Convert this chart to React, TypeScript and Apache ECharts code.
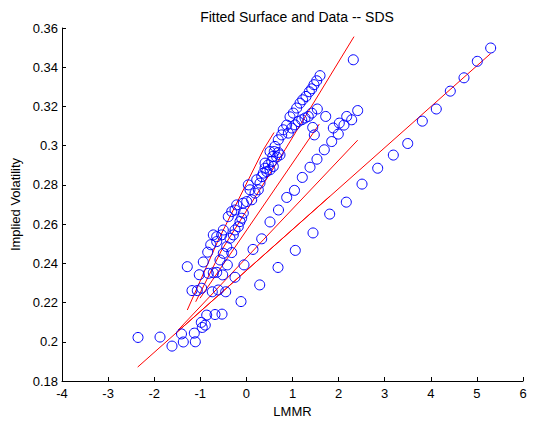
import React, { useEffect, useRef } from "react";
import * as echarts from "echarts";

// Axis ranges and tick settings
const xRange = [-4, 6];
const yRange = [0.18, 0.36];
const xStep = 1;
const yStep = 0.02;

const titleText = "Fitted Surface and Data -- SDS";
const xName = "LMMR";
const yName = "Implied Volatility";

// Data points [LMMR, implied volatility]
const groupE: number[][] = [
  [-2.351, 0.2022], [-1.874, 0.2024], [-1.614, 0.1978], [-1.369, 0.1999], [-1.108, 0.2],
  [-1.408, 0.204], [-1.13, 0.2044], [-0.978, 0.2099], [-0.892, 0.2085], [-0.957, 0.2073],
  [-0.861, 0.2136], [-0.681, 0.2139], [-0.529, 0.2141], [-0.117, 0.2205], [0.289, 0.229],
  [0.686, 0.2379], [1.061, 0.2466], [1.445, 0.2555], [1.807, 0.2651], [2.167, 0.2712],
  [2.508, 0.2804], [2.848, 0.2885], [3.187, 0.2952], [3.499, 0.3011], [3.816, 0.3125],
  [4.119, 0.3187], [4.423, 0.3278], [4.72, 0.3346], [5.009, 0.343], [5.299, 0.3498],
];

const groupD: number[][] = [
  [-0.449, 0.2255], [-0.247, 0.2329], [-0.052, 0.2392], [0.143, 0.2471], [0.332, 0.2525],
  [0.512, 0.2611], [0.696, 0.2672], [0.874, 0.2736], [1.043, 0.2772], [1.213, 0.2838],
  [1.38, 0.289], [1.531, 0.2931], [1.69, 0.2979], [1.85, 0.3021], [1.993, 0.3059],
  [2.117, 0.3105], [2.284, 0.3132], [2.414, 0.3179],
  [1.885, 0.309], [2.015, 0.3115], [2.176, 0.3149], [1.72, 0.3149], [1.438, 0.3093],
  [1.473, 0.3055], [2.319, 0.3438],
];

const groupC: number[][] = [
  [-0.74, 0.2255], [-0.61, 0.2264], [-1.022, 0.2342], [-0.826, 0.2349], [-0.718, 0.2352],
  [-0.644, 0.2354], [-0.514, 0.2341], [-1.282, 0.2383], [-0.935, 0.2407], [-0.573, 0.2417],
  [-0.414, 0.2392],
];

const groupB: number[][] = [
  [-1.18, 0.2261], [-1.065, 0.2261], [-0.97, 0.2273], [-0.839, 0.2457], [-0.774, 0.2495],
  [-0.644, 0.2511], [-0.501, 0.2451], [-0.319, 0.2455],
  [-0.718, 0.2545], [-0.644, 0.2536], [-0.536, 0.2545], [-0.501, 0.257], [-0.427, 0.2485],
  [-0.356, 0.2528], [-0.284, 0.2545], [-0.247, 0.257], [-0.176, 0.2587], [-0.139, 0.2613],
  [-0.102, 0.263], [-0.067, 0.2656], [-0.393, 0.2638], [-0.319, 0.2664], [-0.247, 0.2672],
  [-0.21, 0.2698], [-0.067, 0.2707], [0.007, 0.2715], [0.115, 0.2724], [0.187, 0.2758],
  [0.258, 0.2775], [0.295, 0.2809], [0.078, 0.2775], [0.041, 0.28], [0.224, 0.2826],
];

const groupA: number[][] = [
  [0.512, 0.297], [0.605, 0.297], [0.692, 0.2965], [0.571, 0.2945], [0.657, 0.2942],
  [0.729, 0.2953], [0.549, 0.2919], [0.475, 0.2902], [0.404, 0.2885], [0.44, 0.2868],
  [0.367, 0.286], [0.332, 0.2842], [0.512, 0.2877], [0.584, 0.2894], [0.404, 0.2911],
  [1.597, 0.3357], [1.525, 0.3331], [1.466, 0.3311], [1.417, 0.329], [1.365, 0.3275],
  [1.293, 0.3251], [1.221, 0.3234], [1.163, 0.3217], [1.091, 0.3192], [1.017, 0.3166],
  [0.946, 0.3147], [0.874, 0.3105], [0.8, 0.3081], [0.766, 0.3055], [0.692, 0.303],
  [0.62, 0.2996],
  [1.538, 0.3187], [1.417, 0.3166], [1.343, 0.3149], [1.271, 0.3141], [1.2, 0.3132],
  [1.126, 0.3123], [1.054, 0.3106], [0.983, 0.309], [0.909, 0.3064],
];

// Fitted surface curves
const fit1: number[][] = [[-1.282, 0.2162], [-0.609, 0.2519], [0.367, 0.2979], [0.599, 0.3067]];
const fit2: number[][] = [[-1.1, 0.2204], [-0.536, 0.2468], [0.837, 0.2979], [2.334, 0.3556]];
const fit3: number[][] = [[-1.006, 0.2222], [1.199, 0.2979], [1.581, 0.311]];
const fit4: number[][] = [[-1.48, 0.206], [0.367, 0.252], [2.414, 0.3028]];
const fit5: number[][] = [[-2.358, 0.1871], [5.3, 0.347]];
const fit6: number[][] = [[-1.51, 0.2048], [1.81, 0.2742]];

const FONT = "'Liberation Sans', Arial, Helvetica, sans-serif";

export default function App() {
  const ref = useRef<HTMLDivElement>(null);
  useEffect(() => {
    document.body.style.margin = "0";
    const chart = echarts.init(ref.current!, null, { renderer: "svg" });
    const lineSeries = [fit1, fit2, fit3, fit4, fit5, fit6].map((d) => ({
      type: "line",
      data: d,
      showSymbol: false,
      symbol: "none",
      lineStyle: { color: "#ff0000", width: 1 },
      z: 2,
    }));
    const scatterSeries = [groupA, groupB, groupC, groupD, groupE].map((d) => ({
      type: "scatter",
      data: d,
      symbol: "circle",
      symbolSize: 10,
      itemStyle: { color: "transparent", borderColor: "#0000ff", borderWidth: 1, opacity: 1 },
      z: 3,
    }));
    chart.setOption({
      animation: false,
      backgroundColor: "#ffffff",
      textStyle: { fontFamily: FONT },
      title: {
        text: titleText,
        left: 292,
        top: 5,
        textAlign: "center",
        textStyle: { fontSize: 14, fontWeight: "normal", color: "#000", fontFamily: FONT },
      },
      grid: { left: 62, right: 10, top: 28, bottom: 42, containLabel: false },
      xAxis: {
        type: "value",
        min: xRange[0],
        max: xRange[1],
        interval: xStep,
        name: xName,
        nameLocation: "middle",
        nameGap: 22,
        nameTextStyle: { fontSize: 13, color: "#000", fontFamily: FONT },
        axisLine: { show: true, onZero: false, lineStyle: { color: "#000", width: 1 } },
        axisTick: { show: true, inside: true, length: 4, lineStyle: { color: "#000" } },
        axisLabel: { fontSize: 13, color: "#000", margin: 6, fontFamily: FONT },
        splitLine: { show: false },
      },
      yAxis: {
        type: "value",
        min: yRange[0],
        max: yRange[1],
        interval: yStep,
        name: yName,
        nameLocation: "middle",
        nameGap: 38,
        nameTextStyle: { fontSize: 13, color: "#000", fontFamily: FONT },
        axisLine: { show: true, onZero: false, lineStyle: { color: "#000", width: 1 } },
        axisTick: { show: true, inside: true, length: 4, lineStyle: { color: "#000" } },
        axisLabel: {
          fontSize: 13,
          color: "#000",
          margin: 4,
          fontFamily: FONT,
          formatter: (v: number) => String(parseFloat(v.toFixed(2))),
        },
        splitLine: { show: false },
      },
      series: [...lineSeries, ...scatterSeries],
    });
    return () => chart.dispose();
  }, []);
  return (
    <div
      ref={ref}
      style={{ position: "absolute", left: 0, top: 0, width: 533, height: 423 }}
    />
  );
}
